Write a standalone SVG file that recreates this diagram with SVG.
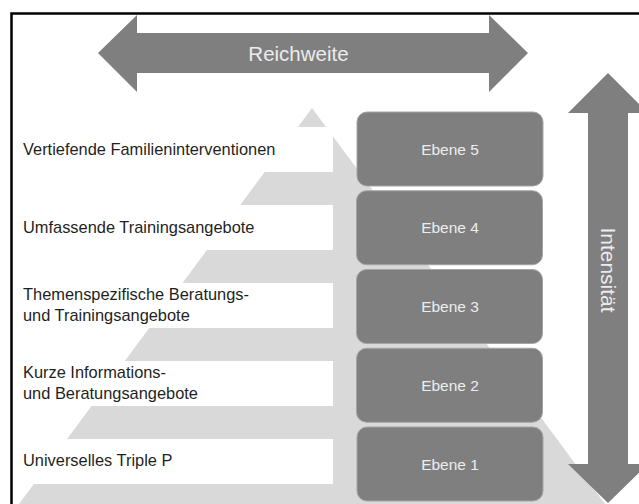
<svg xmlns="http://www.w3.org/2000/svg" width="639" height="504" viewBox="0 0 639 504">
<style>
.lbl{font-family:"Liberation Sans",Arial,sans-serif;font-size:16.4px;fill:#1f1f1f}
.box{fill:#7f7f7f;stroke:#a5a5a5;stroke-width:1}
.boxt{font-family:"Liberation Sans",Arial,sans-serif;font-size:15.5px;fill:#ededed;text-anchor:middle}
.band{fill:#ffffff}
.arrow{fill:#7f7f7f}
.atext{font-family:"Liberation Sans",Arial,sans-serif;fill:#ececec;text-anchor:middle}
</style>
<rect x="0" y="0" width="639" height="504" fill="#ffffff"/>
<rect id="frame" x="11.5" y="13.5" width="640" height="500" fill="none" stroke="#000000" stroke-width="2.5"/>
<polygon id="pyramid" points="312,108 605,504 19,504" fill="#d9d9d9"/>
<g id="bands">
<rect class="band" x="15" y="127" width="318" height="45"/>
<rect class="band" x="15" y="205" width="318" height="45"/>
<rect class="band" x="15" y="283" width="318" height="45"/>
<rect class="band" x="15" y="361" width="318" height="45"/>
<rect class="band" x="15" y="439" width="318" height="45"/>
</g>
<g id="label5"><text class="lbl" x="23" y="155">Vertiefende Familieninterventionen</text></g>
<g id="label4"><text class="lbl" x="23" y="233">Umfassende Trainingsangebote</text></g>
<g id="label3"><text class="lbl" x="23" y="300">Themenspezifische Beratungs-</text><text class="lbl" x="23" y="321">und Trainingsangebote</text></g>
<g id="label2"><text class="lbl" x="23" y="378">Kurze Informations-</text><text class="lbl" x="23" y="399">und Beratungsangebote</text></g>
<g id="label1"><text class="lbl" x="23" y="466">Universelles Triple P</text></g>
<g id="ebene5"><rect class="box" x="357" y="112" width="186" height="74" rx="10"/><text class="boxt" x="450" y="154.5">Ebene 5</text></g>
<g id="ebene4"><rect class="box" x="356.5" y="190.75" width="186" height="74" rx="10"/><text class="boxt" x="450" y="233.25">Ebene 4</text></g>
<g id="ebene3"><rect class="box" x="356.5" y="269.5" width="186" height="74" rx="10"/><text class="boxt" x="450" y="312">Ebene 3</text></g>
<g id="ebene2"><rect class="box" x="356.5" y="348.25" width="186" height="74" rx="10"/><text class="boxt" x="450" y="390.75">Ebene 2</text></g>
<g id="ebene1"><rect class="box" x="357" y="427" width="186" height="74" rx="10"/><text class="boxt" x="450" y="469.5">Ebene 1</text></g>
<g id="connectors">
<g id="reichweite">
<polygon class="arrow" points="98,53 137,15 137,33 489,33 489,15 528,53 489,92 489,73 137,73 137,92"/>
<text class="atext" x="298.5" y="61" font-size="20.5">Reichweite</text>
</g>
<g id="intensitaet">
<polygon class="arrow" points="608,73 648,113 628,113 628,464 648,464 608,503 568,464 588,464 588,113 568,113"/>
<text class="atext" font-size="21" transform="translate(601,270) rotate(90)">Intensität</text>
</g>
</g>
</svg>
